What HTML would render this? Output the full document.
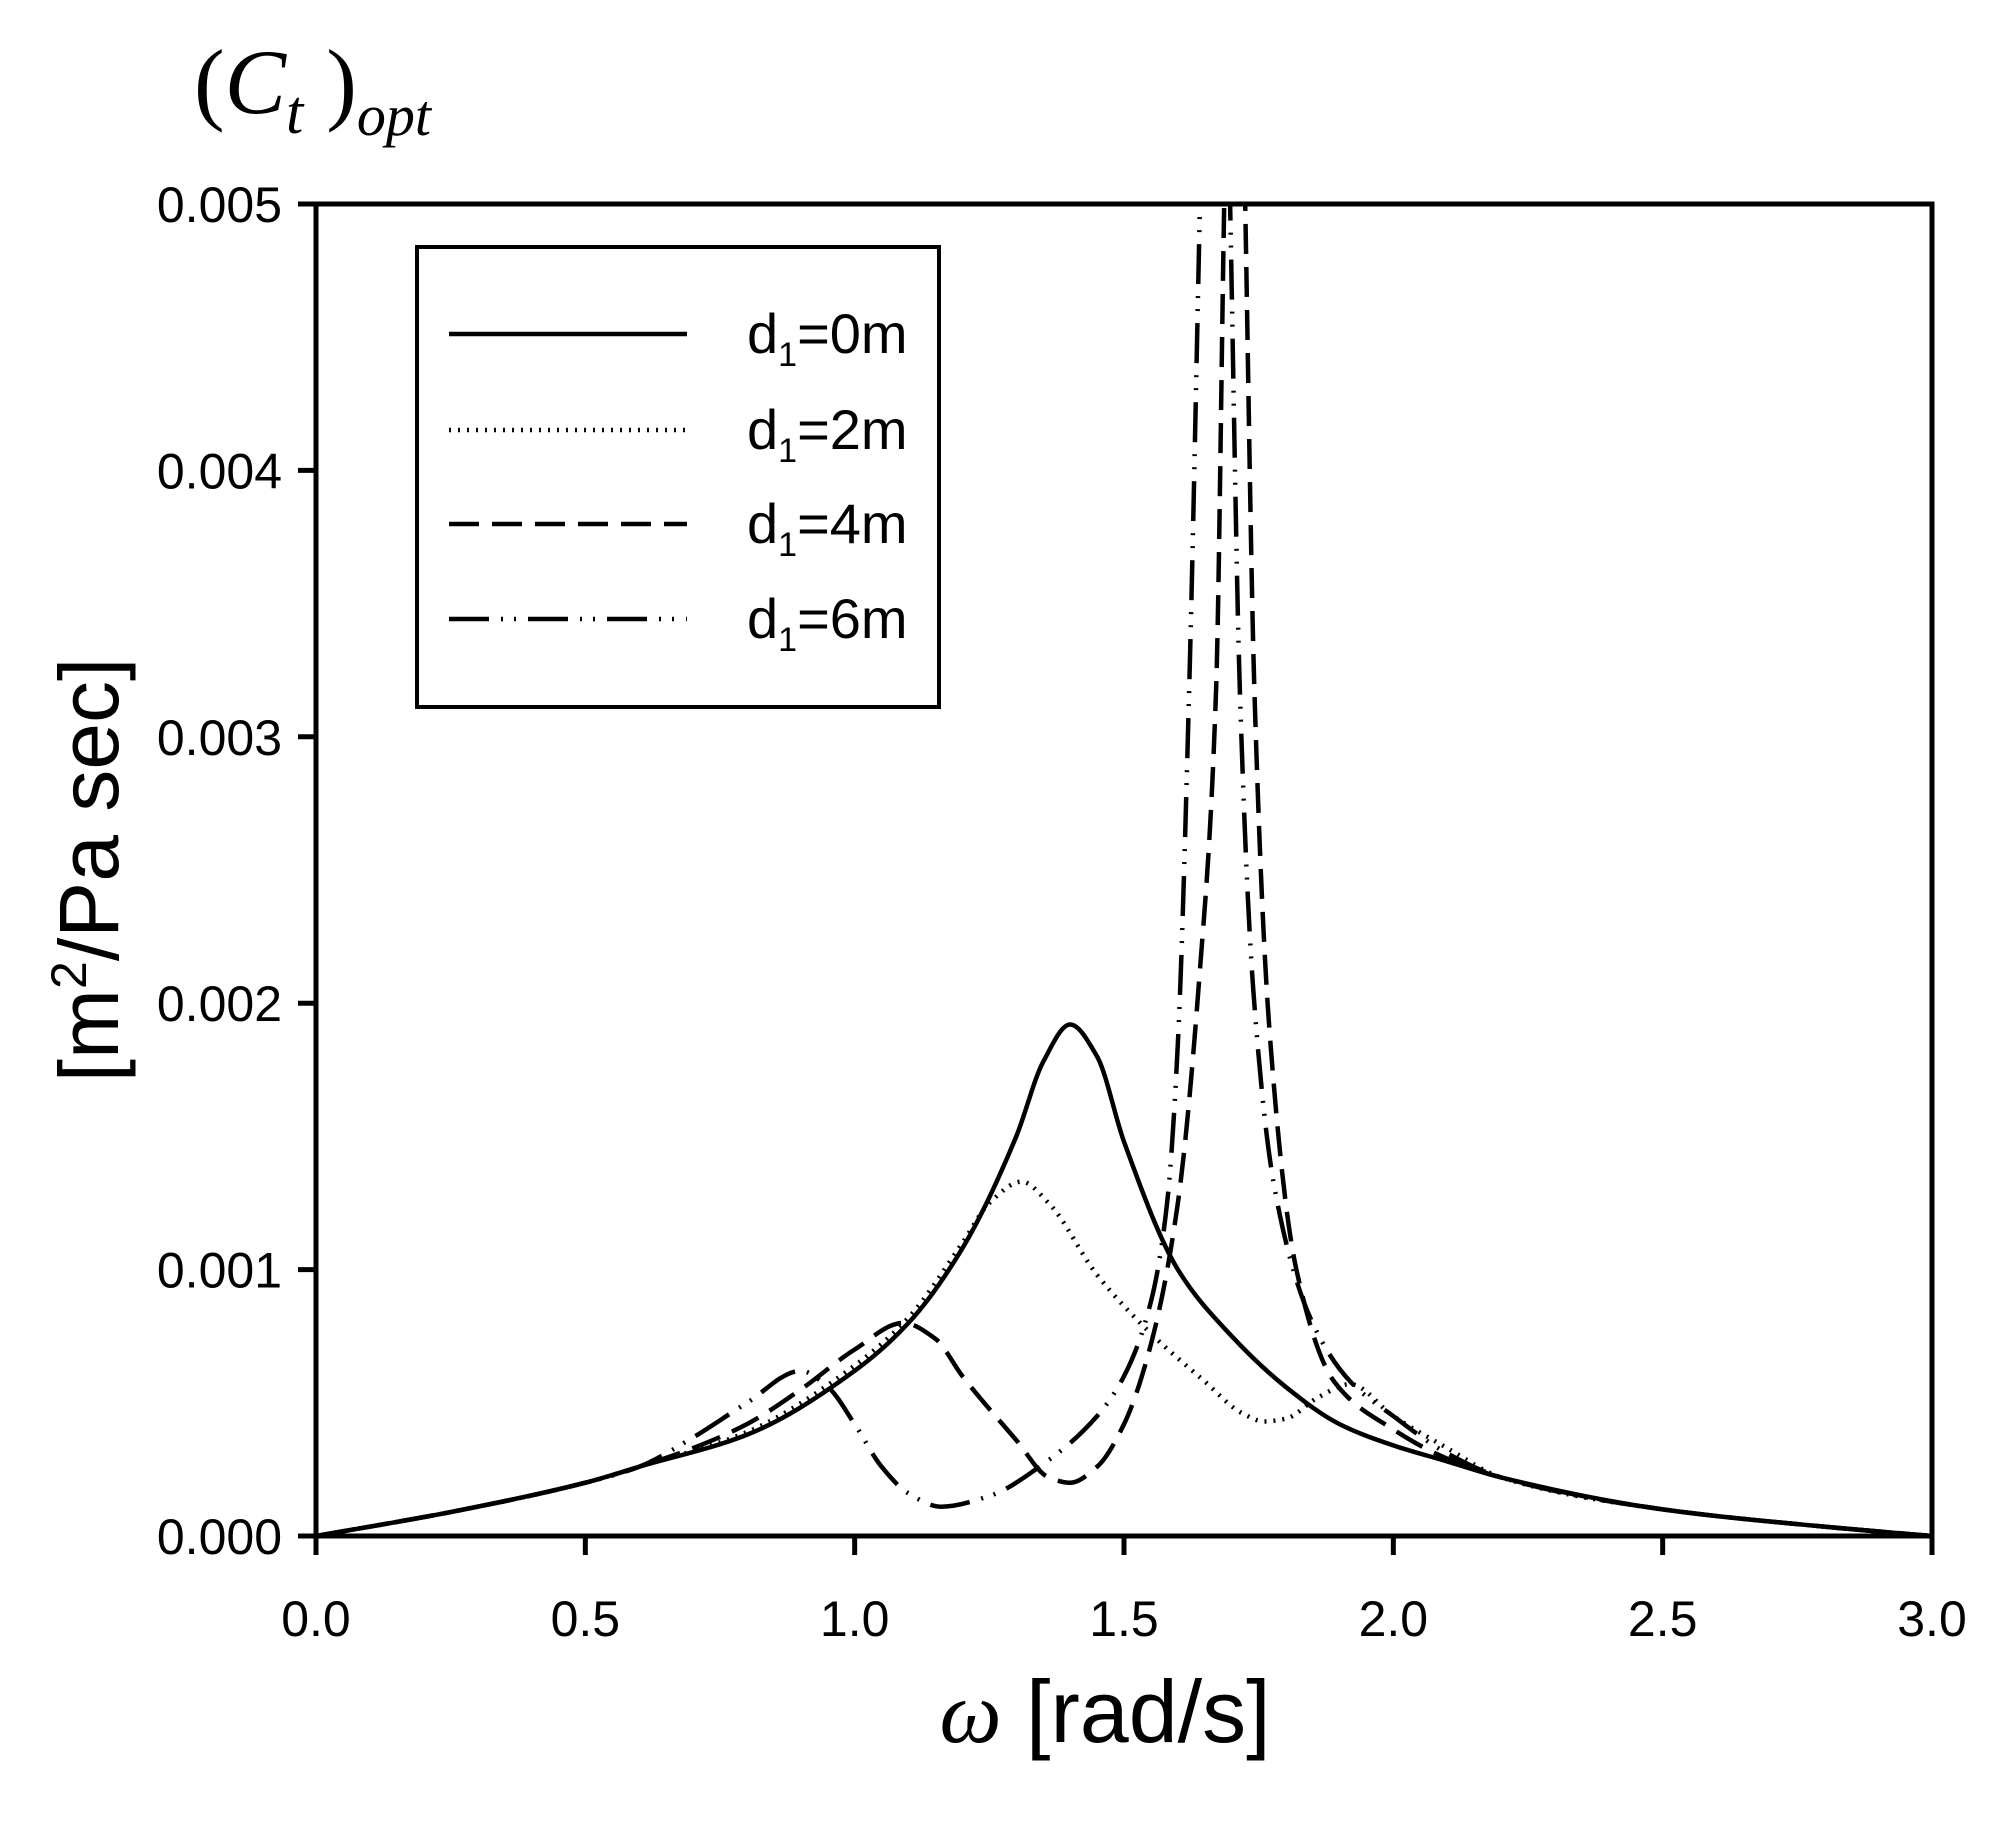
<!DOCTYPE html>
<html><head><meta charset="utf-8"><style>
html,body{margin:0;padding:0;background:#fff;}
svg{display:block;}
</style></head><body>
<svg id="s" width="1991" height="1832" viewBox="0 0 1991 1832" xmlns="http://www.w3.org/2000/svg">
<defs><clipPath id="c"><rect x="316" y="205" width="1616" height="1331"/></clipPath></defs>
<rect width="1991" height="1832" fill="#fff"/>
<g id="curves" clip-path="url(#c)" fill="none" stroke="#000" stroke-width="4.5"></g>
<rect x="316" y="204" width="1616" height="1332" fill="none" stroke="#000" stroke-width="5"/>
<g id="ticks" stroke="#000" stroke-width="5"></g>
<g font-family="Liberation Sans, sans-serif" font-size="50" fill="#000">
<g text-anchor="end" id="yl"></g>
<g text-anchor="middle" id="xl"></g>
</g>
<rect x="417" y="247" width="522" height="460" fill="#fff" stroke="#000" stroke-width="4"/>
<g stroke="#000" stroke-width="4.5" fill="none">
<line x1="449" y1="334" x2="687" y2="334"/>
<line x1="449" y1="430" x2="687" y2="430" stroke-dasharray="2 7"/>
<line x1="449" y1="524" x2="687" y2="524" stroke-dasharray="30 13"/>
<line x1="449" y1="619" x2="687" y2="619" stroke-dasharray="40 12 2 11 2 12"/>
</g>
<g font-family="Liberation Sans, sans-serif" font-size="56" fill="#000">
<text x="747" y="353">d<tspan font-size="34" dy="13">1</tspan><tspan dy="-13">=0m</tspan></text>
<text x="747" y="449">d<tspan font-size="34" dy="13">1</tspan><tspan dy="-13">=2m</tspan></text>
<text x="747" y="543">d<tspan font-size="34" dy="13">1</tspan><tspan dy="-13">=4m</tspan></text>
<text x="747" y="638">d<tspan font-size="34" dy="13">1</tspan><tspan dy="-13">=6m</tspan></text>
</g>
<text x="194" y="113" font-family="Liberation Serif, serif" font-size="92" fill="#000">(<tspan font-style="italic">C</tspan><tspan font-style="italic" font-size="62" dy="20">t</tspan><tspan dy="-20"> )</tspan><tspan font-style="italic" font-size="58" dy="22">opt</tspan></text>
<text transform="translate(118,870) rotate(-90)" text-anchor="middle" font-family="Liberation Sans, sans-serif" font-size="84" fill="#000">[m<tspan font-size="50" dy="-32">2</tspan><tspan dy="32">/Pa sec]</tspan></text>
<text x="1105" y="1742" text-anchor="middle" font-family="Liberation Sans, sans-serif" font-size="88" fill="#000"><tspan font-family="Liberation Serif, serif" font-style="italic">ω</tspan> [rad/s]</text>
</svg>
<script>
var NS="http://www.w3.org/2000/svg";
function X(w){return 316+538.67*w;}
function Y(v){return 1536-v*266.4;}
var t=document.getElementById('ticks'),yl=document.getElementById('yl'),xl=document.getElementById('xl');
for(var i=0;i<=5;i++){var y=Y(i);var l=document.createElementNS(NS,'line');l.setAttribute('x1',298);l.setAttribute('x2',316);l.setAttribute('y1',y);l.setAttribute('y2',y);t.appendChild(l);
var tx=document.createElementNS(NS,'text');tx.setAttribute('x',282);tx.setAttribute('y',y+18);tx.textContent=(i/1000).toFixed(3);yl.appendChild(tx);}
for(var i=0;i<=6;i++){var x=X(i*0.5);var l=document.createElementNS(NS,'line');l.setAttribute('x1',x);l.setAttribute('x2',x);l.setAttribute('y1',1536);l.setAttribute('y2',1555);t.appendChild(l);
var tx=document.createElementNS(NS,'text');tx.setAttribute('x',x);tx.setAttribute('y',1636);tx.textContent=(i*0.5).toFixed(1);xl.appendChild(tx);}
var base=[[0,0],[0.25,0.09],[0.5,0.2],[0.6,0.26]];
var tail=[[2.2,0.22],[2.5,0.1],[2.8,0.035],[3.0,0]];
var S={
a:base.concat([[0.8,0.38],[1.0,0.62],[1.1,0.8],[1.2,1.08],[1.3,1.5],[1.35,1.78],[1.4,1.92],[1.45,1.8],[1.5,1.48],[1.6,1.0],[1.7,0.75],[1.8,0.56],[1.9,0.42],[2.0,0.34],[2.1,0.28]],tail),
b:base.concat([[0.8,0.39],[1.0,0.64],[1.1,0.82],[1.2,1.1],[1.25,1.25],[1.31,1.33],[1.36,1.25],[1.45,0.98],[1.55,0.76],[1.65,0.58],[1.72,0.46],[1.76,0.43],[1.8,0.44],[1.86,0.52],[1.92,0.57],[2.0,0.45],[2.1,0.33]],tail),
c:base.concat([[0.7,0.33],[0.8,0.42],[0.9,0.55],[1.0,0.7],[1.09,0.8],[1.15,0.74],[1.2,0.6],[1.3,0.36],[1.36,0.22],[1.4,0.2],[1.45,0.26],[1.5,0.42],[1.55,0.72],[1.6,1.25],[1.64,2.1],[1.671,3.18],[1.686,5.0],[1.70,6.5],[1.712,6.5],[1.725,5.0],[1.742,3.18],[1.77,1.9],[1.82,1.0],[1.89,0.58],[2.0,0.4],[2.1,0.29]],tail),
d:base.concat([[0.7,0.37],[0.8,0.5],[0.9,0.62],[0.95,0.56],[1.0,0.42],[1.05,0.26],[1.1,0.16],[1.16,0.11],[1.25,0.15],[1.35,0.27],[1.45,0.45],[1.5,0.6],[1.55,0.88],[1.58,1.25],[1.60,1.85],[1.621,3.18],[1.641,5.0],[1.66,6.8],[1.68,6.8],[1.697,5.0],[1.715,3.18],[1.74,2.05],[1.78,1.3],[1.85,0.8],[1.92,0.58],[2.0,0.45],[2.1,0.31]],tail)};
function path(p){var n=p.length,xs=p.map(q=>X(q[0])),ys=p.map(q=>Y(q[1]));var d=[],m=[];
for(var i=0;i<n-1;i++)d.push((ys[i+1]-ys[i])/(xs[i+1]-xs[i]));
for(var i=0;i<n;i++){if(i==0)m.push(d[0]);else if(i==n-1)m.push(d[n-2]);else if(d[i-1]*d[i]<=0)m.push(0);else{var h0=xs[i]-xs[i-1],h1=xs[i+1]-xs[i];m.push(3*(h0+h1)/((2*h1+h0)/d[i-1]+(h1+2*h0)/d[i]));}}
var s='M'+xs[0]+','+ys[0];
for(var i=0;i<n-1;i++){var h=(xs[i+1]-xs[i])/3;s+=' C'+(xs[i]+h)+','+(ys[i]+m[i]*h)+' '+(xs[i+1]-h)+','+(ys[i+1]-m[i+1]*h)+' '+xs[i+1]+','+ys[i+1];}
return s;}
var g=document.getElementById('curves');
var da={a:null,b:'2 7',c:'30 13',d:'40 12 2 11 2 12'};
['a','b','c','d'].forEach(function(k){var p=document.createElementNS(NS,'path');p.setAttribute('d',path(S[k]));if(da[k])p.setAttribute('stroke-dasharray',da[k]);g.appendChild(p);});
</script>
</body></html>
